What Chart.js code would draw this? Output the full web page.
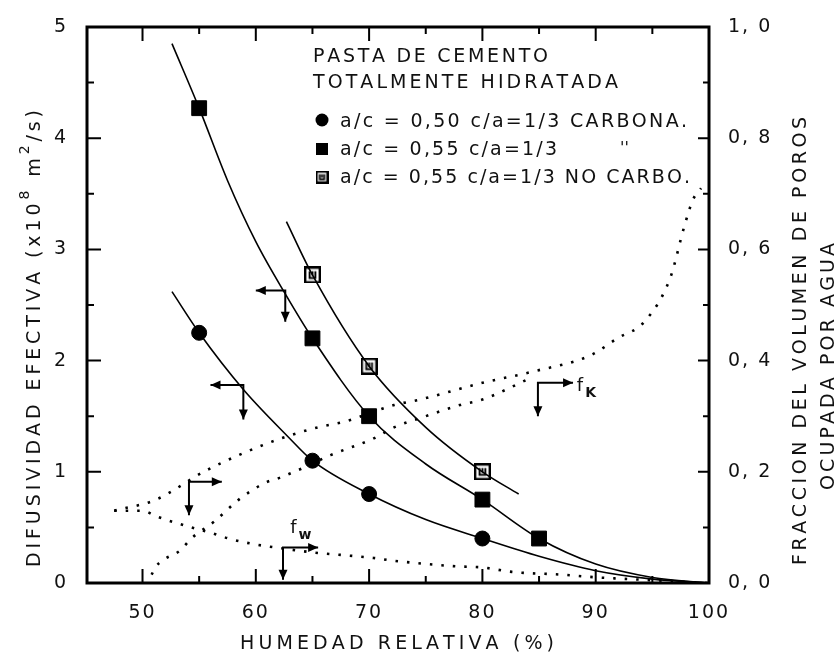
<!DOCTYPE html>
<html><head><meta charset="utf-8">
<script src="https://cdn.jsdelivr.net/npm/chart.js@4"></script>
<style>html,body{margin:0;padding:0;background:#fff}canvas{display:block}</style>
</head><body>
<canvas id="c" width="838" height="653"></canvas>
<script>
// ---- tick labels / tick positions ----
const humedadTicks = [50, 60, 70, 80, 90, 100];
const difusTicks = [0, 1, 2, 3, 4, 5];
const fraccionTicks = [0, 0.2, 0.4, 0.6, 0.8, 1.0];
const humedadMinor = [50, 55, 60, 65, 70, 75, 80, 85, 90, 95];
const difusMinor = [0.5, 1, 1.5, 2, 2.5, 3, 3.5, 4, 4.5];
const fraccionMinor = [0.1, 0.2, 0.3, 0.4, 0.5, 0.6, 0.7, 0.8, 0.9];

// ---- texts ----
const xTitle = 'HUMEDAD RELATIVA (%)';
const yTitleParts = [['DIFUSIVIDAD EFECTIVA (x10', 0], ['8', 1], [' m', 0], ['2', 1], ['/s)', 0]];
const y2Title = ['FRACCION DEL VOLUMEN DE POROS', 'OCUPADA POR AGUA'];
const legendTitle = ['PASTA DE CEMENTO', 'TOTALMENTE HIDRATADA'];
const seriesNames = ['a/c = 0,50 c/a=1/3 CARBONA.', 'a/c = 0,55 c/a=1/3', 'a/c = 0,55 c/a=1/3 NO CARBO.'];
const dittoMark = "''";

// ---- measured points (D, x10^8 m2/s) ----
const hrCirc = [55, 65, 70, 80];
const dCirc = [2.25, 1.1, 0.8, 0.4];
const hrSq = [55, 65, 70, 80, 85];
const dSq = [4.27, 2.2, 1.5, 0.75, 0.4];
const hrOpen = [65, 70, 80];
const dOpen = [2.77, 1.95, 1.0];

// ---- fitted curves ----
const hrFitCirc = [52.6, 55, 58.9, 62.8, 65, 70, 75, 80, 85, 90, 95, 100];
const dFitCirc = [2.62, 2.25, 1.74, 1.32, 1.1, 0.8, 0.57, 0.4, 0.24, 0.11, 0.035, 0];
const hrFitSq = [52.6, 55, 57.5, 60, 62.6, 65, 70, 75, 80, 85, 90, 95, 100];
const dFitSq = [4.85, 4.27, 3.62, 3.07, 2.6, 2.2, 1.5, 1.07, 0.75, 0.4, 0.17, 0.05, 0];
const hrFitOpen = [62.7, 65, 70, 75, 80, 83.2];
const dFitOpen = [3.25, 2.77, 1.95, 1.4, 1.0, 0.8];

// ---- dotted curves (fraction of pore volume) ----
const hrFk = [47.5, 51.2, 55.4, 58.5, 62.2, 65.5, 67.8, 72.2, 74.5, 80, 84.4, 89.6, 91.9, 94.3, 96.6, 97.8, 98.6, 99.3];
const fFk = [0.13, 0.15, 0.2, 0.23, 0.26, 0.28, 0.29, 0.32, 0.33, 0.36, 0.38, 0.41, 0.44, 0.47, 0.55, 0.64, 0.69, 0.71];
const hrFmid = [50.8, 51.2, 53.4, 54.3, 56.3, 58.5, 60.8, 62.2, 64.5, 66.6, 70.4, 72.2, 75, 78, 80, 84.4];
const fFmid = [0.015, 0.03, 0.06, 0.08, 0.11, 0.15, 0.18, 0.19, 0.21, 0.23, 0.26, 0.28, 0.3, 0.32, 0.33, 0.37];
const hrFw = [47.5, 50, 51.2, 54.3, 56.1, 57.6, 59.8, 62.4, 65.5, 67.8, 70.4, 72.2, 77.7, 80, 82.6, 87, 90.2, 95, 100];
const fFw = [0.13, 0.13, 0.12, 0.1, 0.09, 0.08, 0.07, 0.062, 0.054, 0.05, 0.045, 0.04, 0.03, 0.028, 0.02, 0.015, 0.01, 0.005, 0];

// ---- arrows (data units of left axis) ----
const arrowX = [62.6, 58.9, 54.1, 62.4, 84.9];
const arrowY = [2.63, 1.78, 0.91, 0.32, 1.8];
const arrowToX = [60.0, 56.0, 57.0, 65.5, 88.0];
const arrowToY = [2.35, 1.47, 0.61, 0.03, 1.5];
const curveLabels = [['f', 'w'], ['f', 'K']];
const curveLabelX = [63.3, 88.6];
const curveLabelY = [0.5, 1.78];

const FONT = "'DejaVu Sans', sans-serif";
const INK = '#111';
const FS = 19;

function pts(xs, ys) { return xs.map((x, i) => ({ x: x, y: ys[i] })); }

function openSquare(size, lw) {
  const c = document.createElement('canvas');
  c.width = size; c.height = size;
  const g = c.getContext('2d');
  g.strokeStyle = '#000'; g.lineWidth = lw;
  g.strokeRect(lw / 2, lw / 2, size - lw, size - lw);
  g.lineWidth = Math.max(1.5, lw * 0.8);
  g.beginPath();
  g.moveTo(size * 0.33, size * 0.28); g.lineTo(size * 0.33, size * 0.68);
  g.lineTo(size * 0.67, size * 0.68); g.lineTo(size * 0.67, size * 0.28);
  g.moveTo(size * 0.5, size * 0.28); g.lineTo(size * 0.5, size * 0.55);
  g.stroke();
  return c;
}
const openImg = openSquare(17, 2.4);
const openImgLegend = openSquare(13, 2.2);

function spaced(ctx, text, x, y, width) {
  const chars = [...text];
  const w = chars.map(c => ctx.measureText(c).width);
  const tot = w.reduce((a, b) => a + b, 0);
  const sp = chars.length > 1 ? (width - tot) / (chars.length - 1) : 0;
  let cx = x;
  chars.forEach((c, i) => { ctx.fillText(c, cx, y); cx += w[i] + sp; });
}

function arrowHead(ctx, x0, y0, x1, y1) {
  const a = Math.atan2(y1 - y0, x1 - x0), L = 10, W = 4.5;
  ctx.beginPath();
  ctx.moveTo(x1, y1);
  ctx.lineTo(x1 - L * Math.cos(a) + W * Math.sin(a), y1 - L * Math.sin(a) - W * Math.cos(a));
  ctx.lineTo(x1 - L * Math.cos(a) - W * Math.sin(a), y1 - L * Math.sin(a) + W * Math.cos(a));
  ctx.closePath(); ctx.fill();
}

const decor = {
  id: 'decor',
  beforeDraw(chart) { chart.ctx.letterSpacing = '2px'; },
  beforeDatasetsDraw(chart) { chart.ctx.letterSpacing = '0px'; },
  afterDatasetsDraw(chart) {
    const { ctx, chartArea: a, scales } = chart;
    const x = scales.x, y = scales.y, y2 = scales.y2;
    ctx.save();
    ctx.letterSpacing = '0px';
    ctx.strokeStyle = '#000'; ctx.fillStyle = '#000';
    // frame
    ctx.lineWidth = 3;
    ctx.strokeRect(a.left, a.top, a.right - a.left, a.bottom - a.top);
    // inward ticks
    ctx.lineWidth = 2;
    ctx.beginPath();
    humedadMinor.forEach(v => {
      const p = x.getPixelForValue(v), L = v % 10 === 0 ? 14 : 7;
      ctx.moveTo(p, a.bottom); ctx.lineTo(p, a.bottom - L);
      ctx.moveTo(p, a.top); ctx.lineTo(p, a.top + L);
    });
    difusMinor.forEach(v => {
      const p = y.getPixelForValue(v), L = Number.isInteger(v) ? 14 : 7;
      ctx.moveTo(a.left, p); ctx.lineTo(a.left + L, p);
    });
    fraccionMinor.forEach(v => {
      const p = y2.getPixelForValue(v), L = Math.round(v * 10) % 2 === 0 ? 11 : 6;
      ctx.moveTo(a.right, p); ctx.lineTo(a.right - L, p);
    });
    ctx.stroke();
    // arrows
    ctx.lineWidth = 2;
    arrowX.forEach((vx, i) => {
      const cx = x.getPixelForValue(vx), cy = y.getPixelForValue(arrowY[i]);
      const hx = x.getPixelForValue(arrowToX[i]), vy = y.getPixelForValue(arrowToY[i]);
      ctx.beginPath();
      ctx.moveTo(hx, cy); ctx.lineTo(cx, cy); ctx.lineTo(cx, vy);
      ctx.stroke();
      arrowHead(ctx, cx, cy, hx, cy);
      arrowHead(ctx, cx, cy, cx, vy);
    });
    // curve labels f_w, f_K
    ctx.fillStyle = INK;
    ctx.textBaseline = 'alphabetic';
    curveLabels.forEach((lab, i) => {
      const px = x.getPixelForValue(curveLabelX[i]), py = y.getPixelForValue(curveLabelY[i]);
      ctx.font = '18px ' + FONT;
      ctx.fillText(lab[0], px - 3, py + 6);
      const w = ctx.measureText(lab[0]).width;
      ctx.font = 'bold 14px ' + FONT;
      ctx.fillText(lab[1], px - 3 + w + 2, py + 12);
    });
    // legend
    ctx.font = FS + 'px ' + FONT;
    spaced(ctx, legendTitle[0], 313, 62, 235);
    spaced(ctx, legendTitle[1], 313, 88, 305);
    ctx.fillStyle = '#000';
    ctx.beginPath(); ctx.arc(322, 120, 6.5, 0, Math.PI * 2); ctx.fill();
    ctx.fillRect(316, 143, 12, 12);
    ctx.drawImage(openImgLegend, 315.5, 170.5);
    ctx.fillStyle = INK;
    spaced(ctx, seriesNames[0], 340, 127, 347);
    spaced(ctx, seriesNames[1], 340, 155, 217);
    spaced(ctx, seriesNames[2], 340, 183, 350);
    ctx.font = '16px ' + FONT;
    ctx.fillText(dittoMark, 620, 153);
    // x title
    ctx.font = FS + 'px ' + FONT;
    spaced(ctx, xTitle, 240, 649, 314);
    // left title (rotated, with superscripts)
    ctx.save();
    ctx.translate(40, 567);
    ctx.rotate(-Math.PI / 2);
    const segs = [];
    yTitleParts.forEach(([t, sup]) => [...t].forEach(c => segs.push([c, sup])));
    let tot = 0;
    segs.forEach(s => { ctx.font = (s[1] ? '14px ' : FS + 'px ') + FONT; s.push(ctx.measureText(s[0]).width); tot += s[2]; });
    const sp = (457 - tot) / (segs.length - 1);
    let cx = 0;
    segs.forEach(s => {
      ctx.font = (s[1] ? '14px ' : FS + 'px ') + FONT;
      ctx.fillText(s[0], cx, s[1] ? -11 : 0);
      cx += s[2] + sp;
    });
    ctx.restore();
    // right titles
    ctx.font = FS + 'px ' + FONT;
    ctx.save();
    ctx.translate(806, 565); ctx.rotate(-Math.PI / 2);
    spaced(ctx, y2Title[0], 0, 0, 448);
    ctx.restore();
    ctx.save();
    ctx.translate(834, 490); ctx.rotate(-Math.PI / 2);
    spaced(ctx, y2Title[1], 0, 0, 247);
    ctx.restore();
    ctx.restore();
  }
};

const markerBase = { showLine: false, borderColor: '#000', backgroundColor: '#000', yAxisID: 'y' };
const fitBase = { showLine: true, borderColor: '#000', borderWidth: 1.6, pointRadius: 0, cubicInterpolationMode: 'monotone', fill: false, yAxisID: 'y' };
const dotBase = { showLine: true, borderColor: '#000', borderWidth: 2.6, borderDash: [2.5, 9], borderCapStyle: 'butt', pointRadius: 0, cubicInterpolationMode: 'monotone', fill: false, yAxisID: 'y2' };
const tickFont = { family: FONT, size: FS };

new Chart(document.getElementById('c'), {
  type: 'line',
  data: {
    datasets: [
      Object.assign({}, fitBase, { label: 'fit1', data: pts(hrFitCirc, dFitCirc) }),
      Object.assign({}, fitBase, { label: 'fit2', data: pts(hrFitSq, dFitSq) }),
      Object.assign({}, fitBase, { label: 'fit3', data: pts(hrFitOpen, dFitOpen) }),
      Object.assign({}, dotBase, { label: 'fK', data: pts(hrFk, fFk) }),
      Object.assign({}, dotBase, { label: 'fmid', data: pts(hrFmid, fFmid) }),
      Object.assign({}, dotBase, { label: 'fw', data: pts(hrFw, fFw) }),
      Object.assign({}, markerBase, { label: seriesNames[0], data: pts(hrCirc, dCirc), pointStyle: 'circle', pointRadius: 7.5 }),
      Object.assign({}, markerBase, { label: seriesNames[1], data: pts(hrSq, dSq), pointStyle: 'rect', pointRadius: 10.5 }),
      Object.assign({}, markerBase, { label: seriesNames[2], data: pts(hrOpen, dOpen), pointStyle: openImg, pointRadius: 8, backgroundColor: '#fff' })
    ]
  },
  options: {
    responsive: false,
    animation: false,
    devicePixelRatio: 1,
    layout: { padding: { top: 27, left: 0, right: 0, bottom: 0 } },
    font: { family: FONT },
    plugins: { legend: { display: false }, tooltip: { enabled: false } },
    scales: {
      x: {
        type: 'linear', position: 'bottom', min: 45.1, max: 100,
        grid: { display: false }, border: { display: false },
        afterBuildTicks: s => { s.ticks = humedadTicks.map(v => ({ value: v })); },
        afterFit: s => { s.height = 70; },
        ticks: { color: INK, font: tickFont, padding: 11, maxRotation: 0, autoSkip: false, callback: v => String(v) }
      },
      y: {
        type: 'linear', position: 'left', min: 0, max: 5,
        grid: { display: false }, border: { display: false },
        afterBuildTicks: s => { s.ticks = difusTicks.map(v => ({ value: v })); },
        afterFit: s => { s.width = 87; },
        ticks: { color: INK, font: tickFont, padding: 11, autoSkip: false, callback: v => String(v) }
      },
      y2: {
        type: 'linear', position: 'right', min: 0, max: 1,
        grid: { display: false }, border: { display: false },
        afterBuildTicks: s => { s.ticks = fraccionTicks.map(v => ({ value: v })); },
        afterFit: s => { s.width = 129; },
        ticks: { color: INK, font: tickFont, padding: 11, autoSkip: false, callback: v => Number(v).toFixed(1).replace('.', ', ') }
      }
    }
  },
  plugins: [decor]
});
</script>
</body></html>
